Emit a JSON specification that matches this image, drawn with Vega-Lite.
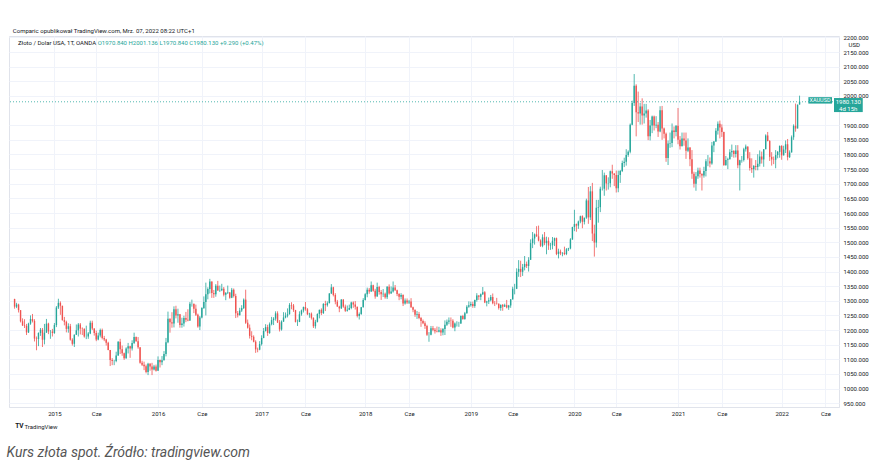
{
"$schema":"https://vega.github.io/schema/vega-lite/v6.json",
"width":830,"height":371,
"autosize":{"type":"none"},
"padding":{"left":9,"top":36,"right":53,"bottom":65},
"background":"white",
"config":{"view":{"stroke":"#e0e3eb","strokeWidth":1},"font":"Roboto"},
"title":{"text":"Kurs złota spot. Źródło: tradingview.com","orient":"bottom","anchor":"start","fontStyle":"italic","fontWeight":"normal","fontSize":14,"color":"#555555","font":"Roboto","offset":16,"dx":-2},
"data":{"values":[
{"t":"2014-08-18","o":1306,"h":1307,"l":1273,"c":1280},
{"t":"2014-08-25","o":1280,"h":1293,"l":1275,"c":1287},
{"t":"2014-09-01","o":1287,"h":1290,"l":1260,"c":1268},
{"t":"2014-09-08","o":1268,"h":1268,"l":1226,"c":1230},
{"t":"2014-09-15","o":1230,"h":1240,"l":1214,"c":1216},
{"t":"2014-09-22","o":1216,"h":1237,"l":1207,"c":1214},
{"t":"2014-09-29","o":1214,"h":1221,"l":1183,"c":1192},
{"t":"2014-10-06","o":1192,"h":1225,"l":1190,"c":1222},
{"t":"2014-10-13","o":1222,"h":1250,"l":1218,"c":1238},
{"t":"2014-10-20","o":1238,"h":1255,"l":1226,"c":1231},
{"t":"2014-10-27","o":1231,"h":1237,"l":1161,"c":1171},
{"t":"2014-11-03","o":1171,"h":1178,"l":1131,"c":1169},
{"t":"2014-11-10","o":1169,"h":1192,"l":1145,"c":1190},
{"t":"2014-11-17","o":1190,"h":1207,"l":1180,"c":1201},
{"t":"2014-11-24","o":1201,"h":1207,"l":1142,"c":1167},
{"t":"2014-12-01","o":1167,"h":1221,"l":1151,"c":1191},
{"t":"2014-12-08","o":1191,"h":1238,"l":1191,"c":1222},
{"t":"2014-12-15","o":1222,"h":1225,"l":1186,"c":1195},
{"t":"2014-12-22","o":1195,"h":1200,"l":1170,"c":1195},
{"t":"2014-12-29","o":1195,"h":1204,"l":1178,"c":1190},
{"t":"2015-01-05","o":1190,"h":1224,"l":1187,"c":1217},
{"t":"2015-01-12","o":1217,"h":1282,"l":1210,"c":1277},
{"t":"2015-01-19","o":1277,"h":1307,"l":1272,"c":1293},
{"t":"2015-01-26","o":1293,"h":1298,"l":1252,"c":1283},
{"t":"2015-02-02","o":1283,"h":1283,"l":1232,"c":1234},
{"t":"2015-02-09","o":1234,"h":1245,"l":1216,"c":1228},
{"t":"2015-02-16","o":1228,"h":1232,"l":1192,"c":1204},
{"t":"2015-02-23","o":1204,"h":1223,"l":1191,"c":1213},
{"t":"2015-03-02","o":1213,"h":1221,"l":1164,"c":1167},
{"t":"2015-03-09","o":1167,"h":1172,"l":1147,"c":1153},
{"t":"2015-03-16","o":1153,"h":1185,"l":1142,"c":1184},
{"t":"2015-03-23","o":1184,"h":1219,"l":1183,"c":1199},
{"t":"2015-03-30","o":1199,"h":1224,"l":1178,"c":1219},
{"t":"2015-04-06","o":1219,"h":1224,"l":1185,"c":1205},
{"t":"2015-04-13","o":1205,"h":1209,"l":1183,"c":1204},
{"t":"2015-04-20","o":1204,"h":1206,"l":1174,"c":1178},
{"t":"2015-04-27","o":1178,"h":1215,"l":1169,"c":1178},
{"t":"2015-05-04","o":1178,"h":1193,"l":1170,"c":1188},
{"t":"2015-05-11","o":1188,"h":1232,"l":1186,"c":1225},
{"t":"2015-05-18","o":1225,"h":1232,"l":1200,"c":1205},
{"t":"2015-05-25","o":1205,"h":1206,"l":1181,"c":1190},
{"t":"2015-06-01","o":1190,"h":1198,"l":1162,"c":1168},
{"t":"2015-06-08","o":1168,"h":1191,"l":1165,"c":1181},
{"t":"2015-06-15","o":1181,"h":1205,"l":1175,"c":1200},
{"t":"2015-06-22","o":1200,"h":1205,"l":1168,"c":1173},
{"t":"2015-06-29","o":1173,"h":1180,"l":1162,"c":1168},
{"t":"2015-07-06","o":1168,"h":1170,"l":1147,"c":1157},
{"t":"2015-07-13","o":1157,"h":1160,"l":1131,"c":1132},
{"t":"2015-07-20","o":1132,"h":1132,"l":1077,"c":1098},
{"t":"2015-07-27","o":1098,"h":1104,"l":1080,"c":1094},
{"t":"2015-08-03","o":1094,"h":1098,"l":1080,"c":1094},
{"t":"2015-08-10","o":1094,"h":1126,"l":1090,"c":1113},
{"t":"2015-08-17","o":1113,"h":1162,"l":1112,"c":1160},
{"t":"2015-08-24","o":1160,"h":1170,"l":1118,"c":1134},
{"t":"2015-08-31","o":1134,"h":1147,"l":1112,"c":1121},
{"t":"2015-09-07","o":1121,"h":1123,"l":1098,"c":1104},
{"t":"2015-09-14","o":1104,"h":1141,"l":1102,"c":1137},
{"t":"2015-09-21","o":1137,"h":1156,"l":1120,"c":1145},
{"t":"2015-09-28","o":1145,"h":1146,"l":1105,"c":1137},
{"t":"2015-10-05","o":1137,"h":1165,"l":1130,"c":1156},
{"t":"2015-10-12","o":1156,"h":1191,"l":1152,"c":1176},
{"t":"2015-10-19","o":1176,"h":1178,"l":1160,"c":1162},
{"t":"2015-10-26","o":1162,"h":1176,"l":1136,"c":1141},
{"t":"2015-11-02","o":1141,"h":1141,"l":1085,"c":1088},
{"t":"2015-11-09","o":1088,"h":1095,"l":1077,"c":1081},
{"t":"2015-11-16","o":1081,"h":1092,"l":1063,"c":1076},
{"t":"2015-11-23","o":1076,"h":1082,"l":1052,"c":1057},
{"t":"2015-11-30","o":1057,"h":1088,"l":1046,"c":1085},
{"t":"2015-12-07","o":1085,"h":1087,"l":1061,"c":1075},
{"t":"2015-12-14","o":1075,"h":1088,"l":1046,"c":1065},
{"t":"2015-12-21","o":1065,"h":1081,"l":1062,"c":1075},
{"t":"2015-12-28","o":1075,"h":1082,"l":1058,"c":1061},
{"t":"2016-01-04","o":1061,"h":1110,"l":1061,"c":1098},
{"t":"2016-01-11","o":1098,"h":1099,"l":1072,"c":1090},
{"t":"2016-01-18","o":1090,"h":1111,"l":1080,"c":1097},
{"t":"2016-01-25","o":1097,"h":1128,"l":1096,"c":1118},
{"t":"2016-02-01","o":1118,"h":1173,"l":1110,"c":1158},
{"t":"2016-02-08","o":1158,"h":1263,"l":1155,"c":1239},
{"t":"2016-02-15","o":1239,"h":1240,"l":1191,"c":1227},
{"t":"2016-02-22","o":1227,"h":1261,"l":1208,"c":1222},
{"t":"2016-02-29","o":1222,"h":1281,"l":1209,"c":1271},
{"t":"2016-03-07","o":1271,"h":1283,"l":1240,"c":1250},
{"t":"2016-03-14","o":1250,"h":1273,"l":1225,"c":1254},
{"t":"2016-03-21","o":1254,"h":1255,"l":1208,"c":1217},
{"t":"2016-03-28","o":1217,"h":1242,"l":1208,"c":1222},
{"t":"2016-04-04","o":1222,"h":1249,"l":1212,"c":1241},
{"t":"2016-04-11","o":1241,"h":1262,"l":1227,"c":1235},
{"t":"2016-04-18","o":1235,"h":1271,"l":1230,"c":1233},
{"t":"2016-04-25","o":1233,"h":1296,"l":1231,"c":1290},
{"t":"2016-05-02","o":1290,"h":1304,"l":1280,"c":1290},
{"t":"2016-05-09","o":1290,"h":1290,"l":1258,"c":1273},
{"t":"2016-05-16","o":1273,"h":1287,"l":1248,"c":1252},
{"t":"2016-05-23","o":1252,"h":1256,"l":1208,"c":1212},
{"t":"2016-05-30","o":1212,"h":1248,"l":1200,"c":1243},
{"t":"2016-06-06","o":1243,"h":1278,"l":1240,"c":1275},
{"t":"2016-06-13","o":1275,"h":1315,"l":1272,"c":1296},
{"t":"2016-06-20","o":1296,"h":1362,"l":1250,"c":1322},
{"t":"2016-06-27","o":1322,"h":1346,"l":1305,"c":1340},
{"t":"2016-07-04","o":1340,"h":1375,"l":1325,"c":1366},
{"t":"2016-07-11","o":1366,"h":1366,"l":1310,"c":1327},
{"t":"2016-07-18","o":1327,"h":1337,"l":1310,"c":1322},
{"t":"2016-07-25","o":1322,"h":1357,"l":1314,"c":1351},
{"t":"2016-08-01","o":1351,"h":1368,"l":1334,"c":1335},
{"t":"2016-08-08","o":1335,"h":1352,"l":1330,"c":1336},
{"t":"2016-08-15","o":1336,"h":1358,"l":1333,"c":1341},
{"t":"2016-08-22","o":1341,"h":1347,"l":1315,"c":1321},
{"t":"2016-08-29","o":1321,"h":1330,"l":1302,"c":1327},
{"t":"2016-09-05","o":1327,"h":1352,"l":1323,"c":1328},
{"t":"2016-09-12","o":1328,"h":1330,"l":1307,"c":1310},
{"t":"2016-09-19","o":1310,"h":1344,"l":1309,"c":1338},
{"t":"2016-09-26","o":1338,"h":1342,"l":1311,"c":1316},
{"t":"2016-10-03","o":1316,"h":1324,"l":1241,"c":1257},
{"t":"2016-10-10","o":1257,"h":1265,"l":1243,"c":1251},
{"t":"2016-10-17","o":1251,"h":1276,"l":1250,"c":1267},
{"t":"2016-10-24","o":1267,"h":1285,"l":1262,"c":1275},
{"t":"2016-10-31","o":1275,"h":1308,"l":1272,"c":1304},
{"t":"2016-11-07","o":1304,"h":1338,"l":1221,"c":1225},
{"t":"2016-11-14","o":1225,"h":1236,"l":1205,"c":1208},
{"t":"2016-11-21","o":1208,"h":1219,"l":1171,"c":1180},
{"t":"2016-11-28","o":1180,"h":1196,"l":1165,"c":1177},
{"t":"2016-12-05","o":1177,"h":1182,"l":1158,"c":1160},
{"t":"2016-12-12","o":1160,"h":1165,"l":1122,"c":1134},
{"t":"2016-12-19","o":1134,"h":1140,"l":1124,"c":1133},
{"t":"2016-12-26","o":1133,"h":1162,"l":1131,"c":1152},
{"t":"2017-01-02","o":1152,"h":1182,"l":1147,"c":1173},
{"t":"2017-01-09","o":1173,"h":1207,"l":1172,"c":1197},
{"t":"2017-01-16","o":1197,"h":1220,"l":1195,"c":1210},
{"t":"2017-01-23","o":1210,"h":1218,"l":1180,"c":1190},
{"t":"2017-01-30","o":1190,"h":1226,"l":1187,"c":1220},
{"t":"2017-02-06","o":1220,"h":1245,"l":1216,"c":1234},
{"t":"2017-02-13","o":1234,"h":1244,"l":1217,"c":1239},
{"t":"2017-02-20","o":1239,"h":1264,"l":1232,"c":1257},
{"t":"2017-02-27","o":1257,"h":1264,"l":1224,"c":1226},
{"t":"2017-03-06","o":1226,"h":1234,"l":1195,"c":1202},
{"t":"2017-03-13","o":1202,"h":1233,"l":1198,"c":1229},
{"t":"2017-03-20","o":1229,"h":1261,"l":1228,"c":1243},
{"t":"2017-03-27","o":1243,"h":1260,"l":1240,"c":1249},
{"t":"2017-04-03","o":1249,"h":1274,"l":1243,"c":1254},
{"t":"2017-04-10","o":1254,"h":1292,"l":1253,"c":1286},
{"t":"2017-04-17","o":1286,"h":1295,"l":1271,"c":1284},
{"t":"2017-04-24","o":1284,"h":1289,"l":1262,"c":1268},
{"t":"2017-05-01","o":1268,"h":1269,"l":1226,"c":1228},
{"t":"2017-05-08","o":1228,"h":1236,"l":1214,"c":1228},
{"t":"2017-05-15","o":1228,"h":1264,"l":1227,"c":1254},
{"t":"2017-05-22","o":1254,"h":1270,"l":1249,"c":1267},
{"t":"2017-05-29","o":1267,"h":1280,"l":1260,"c":1279},
{"t":"2017-06-05","o":1279,"h":1296,"l":1266,"c":1271},
{"t":"2017-06-12","o":1271,"h":1275,"l":1251,"c":1254},
{"t":"2017-06-19","o":1254,"h":1259,"l":1242,"c":1256},
{"t":"2017-06-26","o":1256,"h":1260,"l":1236,"c":1242},
{"t":"2017-07-03","o":1242,"h":1243,"l":1207,"c":1213},
{"t":"2017-07-10","o":1213,"h":1235,"l":1205,"c":1228},
{"t":"2017-07-17","o":1228,"h":1257,"l":1226,"c":1255},
{"t":"2017-07-24","o":1255,"h":1270,"l":1240,"c":1269},
{"t":"2017-07-31","o":1269,"h":1274,"l":1251,"c":1258},
{"t":"2017-08-07","o":1258,"h":1292,"l":1255,"c":1289},
{"t":"2017-08-14","o":1289,"h":1300,"l":1265,"c":1285},
{"t":"2017-08-21","o":1285,"h":1298,"l":1280,"c":1292},
{"t":"2017-08-28","o":1292,"h":1326,"l":1291,"c":1325},
{"t":"2017-09-04","o":1325,"h":1357,"l":1323,"c":1346},
{"t":"2017-09-11","o":1346,"h":1348,"l":1315,"c":1320},
{"t":"2017-09-18","o":1320,"h":1326,"l":1288,"c":1297},
{"t":"2017-09-25","o":1297,"h":1303,"l":1280,"c":1280},
{"t":"2017-10-02","o":1280,"h":1283,"l":1261,"c":1274},
{"t":"2017-10-09","o":1274,"h":1306,"l":1272,"c":1304},
{"t":"2017-10-16","o":1304,"h":1306,"l":1276,"c":1280},
{"t":"2017-10-23","o":1280,"h":1287,"l":1262,"c":1266},
{"t":"2017-10-30","o":1266,"h":1284,"l":1263,"c":1269},
{"t":"2017-11-06","o":1269,"h":1287,"l":1268,"c":1275},
{"t":"2017-11-13","o":1275,"h":1297,"l":1271,"c":1294},
{"t":"2017-11-20","o":1294,"h":1298,"l":1276,"c":1287},
{"t":"2017-11-27","o":1287,"h":1299,"l":1270,"c":1280},
{"t":"2017-12-04","o":1280,"h":1280,"l":1243,"c":1248},
{"t":"2017-12-11","o":1248,"h":1260,"l":1236,"c":1255},
{"t":"2017-12-18","o":1255,"h":1279,"l":1252,"c":1278},
{"t":"2017-12-25","o":1278,"h":1309,"l":1277,"c":1303},
{"t":"2018-01-01","o":1303,"h":1326,"l":1301,"c":1322},
{"t":"2018-01-08","o":1322,"h":1345,"l":1312,"c":1338},
{"t":"2018-01-15","o":1338,"h":1344,"l":1324,"c":1332},
{"t":"2018-01-22","o":1332,"h":1366,"l":1330,"c":1353},
{"t":"2018-01-29","o":1353,"h":1355,"l":1331,"c":1334},
{"t":"2018-02-05","o":1334,"h":1341,"l":1307,"c":1315},
{"t":"2018-02-12","o":1315,"h":1362,"l":1314,"c":1347},
{"t":"2018-02-19","o":1347,"h":1351,"l":1321,"c":1330},
{"t":"2018-02-26","o":1330,"h":1337,"l":1303,"c":1322},
{"t":"2018-03-05","o":1322,"h":1340,"l":1313,"c":1324},
{"t":"2018-03-12","o":1324,"h":1328,"l":1307,"c":1312},
{"t":"2018-03-19","o":1312,"h":1350,"l":1306,"c":1348},
{"t":"2018-03-26","o":1348,"h":1356,"l":1321,"c":1325},
{"t":"2018-04-02","o":1325,"h":1349,"l":1324,"c":1332},
{"t":"2018-04-09","o":1332,"h":1366,"l":1328,"c":1345},
{"t":"2018-04-16","o":1345,"h":1354,"l":1334,"c":1336},
{"t":"2018-04-23","o":1336,"h":1338,"l":1316,"c":1323},
{"t":"2018-04-30","o":1323,"h":1326,"l":1302,"c":1314},
{"t":"2018-05-07","o":1314,"h":1326,"l":1305,"c":1320},
{"t":"2018-05-14","o":1320,"h":1322,"l":1282,"c":1291},
{"t":"2018-05-21","o":1291,"h":1308,"l":1287,"c":1301},
{"t":"2018-05-28","o":1301,"h":1308,"l":1289,"c":1294},
{"t":"2018-06-04","o":1294,"h":1303,"l":1289,"c":1298},
{"t":"2018-06-11","o":1298,"h":1309,"l":1276,"c":1278},
{"t":"2018-06-18","o":1278,"h":1280,"l":1261,"c":1269},
{"t":"2018-06-25","o":1269,"h":1270,"l":1245,"c":1252},
{"t":"2018-07-02","o":1252,"h":1265,"l":1238,"c":1255},
{"t":"2018-07-09","o":1255,"h":1262,"l":1237,"c":1241},
{"t":"2018-07-16","o":1241,"h":1245,"l":1211,"c":1231},
{"t":"2018-07-23","o":1231,"h":1236,"l":1220,"c":1223},
{"t":"2018-07-30","o":1223,"h":1230,"l":1204,"c":1214},
{"t":"2018-08-06","o":1214,"h":1218,"l":1180,"c":1184},
{"t":"2018-08-13","o":1184,"h":1193,"l":1160,"c":1184},
{"t":"2018-08-20","o":1184,"h":1214,"l":1182,"c":1206},
{"t":"2018-08-27","o":1206,"h":1214,"l":1196,"c":1201},
{"t":"2018-09-03","o":1201,"h":1207,"l":1188,"c":1196},
{"t":"2018-09-10","o":1196,"h":1212,"l":1192,"c":1194},
{"t":"2018-09-17","o":1194,"h":1211,"l":1192,"c":1199},
{"t":"2018-09-24","o":1199,"h":1206,"l":1180,"c":1192},
{"t":"2018-10-01","o":1192,"h":1207,"l":1182,"c":1204},
{"t":"2018-10-08","o":1204,"h":1233,"l":1183,"c":1218},
{"t":"2018-10-15","o":1218,"h":1236,"l":1214,"c":1228},
{"t":"2018-10-22","o":1228,"h":1243,"l":1220,"c":1233},
{"t":"2018-10-29","o":1233,"h":1243,"l":1211,"c":1232},
{"t":"2018-11-05","o":1232,"h":1237,"l":1206,"c":1209},
{"t":"2018-11-12","o":1209,"h":1226,"l":1196,"c":1222},
{"t":"2018-11-19","o":1222,"h":1230,"l":1212,"c":1222},
{"t":"2018-11-26","o":1222,"h":1228,"l":1211,"c":1222},
{"t":"2018-12-03","o":1222,"h":1250,"l":1221,"c":1248},
{"t":"2018-12-10","o":1248,"h":1252,"l":1235,"c":1238},
{"t":"2018-12-17","o":1238,"h":1262,"l":1235,"c":1257},
{"t":"2018-12-24","o":1257,"h":1285,"l":1256,"c":1280},
{"t":"2018-12-31","o":1280,"h":1298,"l":1276,"c":1285},
{"t":"2019-01-07","o":1285,"h":1297,"l":1280,"c":1289},
{"t":"2019-01-14","o":1289,"h":1297,"l":1276,"c":1282},
{"t":"2019-01-21","o":1282,"h":1304,"l":1276,"c":1303},
{"t":"2019-01-28","o":1303,"h":1326,"l":1297,"c":1318},
{"t":"2019-02-04","o":1318,"h":1319,"l":1303,"c":1314},
{"t":"2019-02-11","o":1314,"h":1325,"l":1302,"c":1322},
{"t":"2019-02-18","o":1322,"h":1347,"l":1320,"c":1329},
{"t":"2019-02-25","o":1329,"h":1333,"l":1292,"c":1294},
{"t":"2019-03-04","o":1294,"h":1300,"l":1281,"c":1298},
{"t":"2019-03-11","o":1298,"h":1311,"l":1289,"c":1302},
{"t":"2019-03-18","o":1302,"h":1320,"l":1298,"c":1313},
{"t":"2019-03-25","o":1313,"h":1325,"l":1288,"c":1292},
{"t":"2019-04-01","o":1292,"h":1299,"l":1282,"c":1291},
{"t":"2019-04-08","o":1291,"h":1310,"l":1287,"c":1290},
{"t":"2019-04-15","o":1290,"h":1291,"l":1270,"c":1275},
{"t":"2019-04-22","o":1275,"h":1288,"l":1266,"c":1286},
{"t":"2019-04-29","o":1286,"h":1289,"l":1266,"c":1280},
{"t":"2019-05-06","o":1280,"h":1290,"l":1279,"c":1285},
{"t":"2019-05-13","o":1285,"h":1303,"l":1274,"c":1277},
{"t":"2019-05-20","o":1277,"h":1286,"l":1269,"c":1284},
{"t":"2019-05-27","o":1284,"h":1306,"l":1276,"c":1305},
{"t":"2019-06-03","o":1305,"h":1348,"l":1304,"c":1341},
{"t":"2019-06-10","o":1341,"h":1358,"l":1322,"c":1341},
{"t":"2019-06-17","o":1341,"h":1411,"l":1340,"c":1399},
{"t":"2019-06-24","o":1399,"h":1439,"l":1382,"c":1409},
{"t":"2019-07-01","o":1409,"h":1437,"l":1381,"c":1399},
{"t":"2019-07-08","o":1399,"h":1426,"l":1385,"c":1415},
{"t":"2019-07-15","o":1415,"h":1453,"l":1404,"c":1426},
{"t":"2019-07-22","o":1426,"h":1434,"l":1412,"c":1419},
{"t":"2019-07-29","o":1419,"h":1449,"l":1400,"c":1440},
{"t":"2019-08-05","o":1440,"h":1510,"l":1440,"c":1497},
{"t":"2019-08-12","o":1497,"h":1535,"l":1480,"c":1513},
{"t":"2019-08-19","o":1513,"h":1530,"l":1492,"c":1527},
{"t":"2019-08-26","o":1527,"h":1555,"l":1519,"c":1520},
{"t":"2019-09-02","o":1520,"h":1557,"l":1503,"c":1506},
{"t":"2019-09-09","o":1506,"h":1510,"l":1484,"c":1488},
{"t":"2019-09-16","o":1488,"h":1527,"l":1483,"c":1517},
{"t":"2019-09-23","o":1517,"h":1535,"l":1490,"c":1497},
{"t":"2019-09-30","o":1497,"h":1519,"l":1459,"c":1505},
{"t":"2019-10-07","o":1505,"h":1517,"l":1474,"c":1489},
{"t":"2019-10-14","o":1489,"h":1498,"l":1474,"c":1490},
{"t":"2019-10-21","o":1490,"h":1518,"l":1476,"c":1505},
{"t":"2019-10-28","o":1505,"h":1516,"l":1487,"c":1514},
{"t":"2019-11-04","o":1514,"h":1516,"l":1456,"c":1460},
{"t":"2019-11-11","o":1460,"h":1478,"l":1445,"c":1468},
{"t":"2019-11-18","o":1468,"h":1475,"l":1456,"c":1462},
{"t":"2019-11-25","o":1462,"h":1466,"l":1452,"c":1464},
{"t":"2019-12-02","o":1464,"h":1485,"l":1456,"c":1460},
{"t":"2019-12-09","o":1460,"h":1480,"l":1456,"c":1476},
{"t":"2019-12-16","o":1476,"h":1481,"l":1470,"c":1479},
{"t":"2019-12-23","o":1479,"h":1514,"l":1476,"c":1510},
{"t":"2019-12-30","o":1510,"h":1553,"l":1508,"c":1552},
{"t":"2020-01-06","o":1552,"h":1611,"l":1538,"c":1562},
{"t":"2020-01-13","o":1562,"h":1564,"l":1536,"c":1557},
{"t":"2020-01-20","o":1557,"h":1574,"l":1546,"c":1571},
{"t":"2020-01-27","o":1571,"h":1591,"l":1565,"c":1589},
{"t":"2020-02-03","o":1589,"h":1592,"l":1548,"c":1570},
{"t":"2020-02-10","o":1570,"h":1584,"l":1561,"c":1584},
{"t":"2020-02-17","o":1584,"h":1649,"l":1580,"c":1643},
{"t":"2020-02-24","o":1643,"h":1689,"l":1563,"c":1585},
{"t":"2020-03-02","o":1585,"h":1692,"l":1576,"c":1674},
{"t":"2020-03-09","o":1674,"h":1703,"l":1504,"c":1530},
{"t":"2020-03-16","o":1530,"h":1560,"l":1451,"c":1499},
{"t":"2020-03-23","o":1499,"h":1645,"l":1482,"c":1618},
{"t":"2020-03-30","o":1618,"h":1645,"l":1567,"c":1620},
{"t":"2020-04-06","o":1620,"h":1690,"l":1603,"c":1683},
{"t":"2020-04-13","o":1683,"h":1747,"l":1677,"c":1683},
{"t":"2020-04-20","o":1683,"h":1738,"l":1659,"c":1729},
{"t":"2020-04-27","o":1729,"h":1729,"l":1677,"c":1701},
{"t":"2020-05-04","o":1701,"h":1722,"l":1680,"c":1702},
{"t":"2020-05-11","o":1702,"h":1745,"l":1688,"c":1743},
{"t":"2020-05-18","o":1743,"h":1765,"l":1717,"c":1735},
{"t":"2020-05-25","o":1735,"h":1736,"l":1692,"c":1730},
{"t":"2020-06-01","o":1730,"h":1745,"l":1670,"c":1685},
{"t":"2020-06-08","o":1685,"h":1745,"l":1671,"c":1730},
{"t":"2020-06-15","o":1730,"h":1747,"l":1703,"c":1744},
{"t":"2020-06-22","o":1744,"h":1779,"l":1740,"c":1771},
{"t":"2020-06-29","o":1771,"h":1789,"l":1757,"c":1775},
{"t":"2020-07-06","o":1775,"h":1818,"l":1762,"c":1798},
{"t":"2020-07-13","o":1798,"h":1814,"l":1792,"c":1809},
{"t":"2020-07-20","o":1809,"h":1906,"l":1804,"c":1902},
{"t":"2020-07-27","o":1902,"h":1984,"l":1900,"c":1976},
{"t":"2020-08-03","o":1976,"h":2075,"l":1966,"c":2035},
{"t":"2020-08-10","o":2035,"h":2040,"l":1862,"c":1944},
{"t":"2020-08-17","o":1944,"h":2015,"l":1911,"c":1940},
{"t":"2020-08-24","o":1940,"h":1976,"l":1902,"c":1964},
{"t":"2020-08-31","o":1964,"h":1992,"l":1902,"c":1933},
{"t":"2020-09-07","o":1933,"h":1973,"l":1906,"c":1940},
{"t":"2020-09-14","o":1940,"h":1973,"l":1926,"c":1950},
{"t":"2020-09-21","o":1950,"h":1955,"l":1849,"c":1862},
{"t":"2020-09-28","o":1862,"h":1918,"l":1848,"c":1899},
{"t":"2020-10-05","o":1899,"h":1933,"l":1873,"c":1930},
{"t":"2020-10-12","o":1930,"h":1933,"l":1882,"c":1899},
{"t":"2020-10-19","o":1899,"h":1931,"l":1890,"c":1902},
{"t":"2020-10-26","o":1902,"h":1911,"l":1860,"c":1879},
{"t":"2020-11-02","o":1879,"h":1965,"l":1876,"c":1951},
{"t":"2020-11-09","o":1951,"h":1966,"l":1850,"c":1889},
{"t":"2020-11-16","o":1889,"h":1892,"l":1855,"c":1871},
{"t":"2020-11-23","o":1871,"h":1875,"l":1775,"c":1788},
{"t":"2020-11-30","o":1788,"h":1848,"l":1764,"c":1838},
{"t":"2020-12-07","o":1838,"h":1875,"l":1823,"c":1839},
{"t":"2020-12-14","o":1839,"h":1906,"l":1825,"c":1882},
{"t":"2020-12-21","o":1882,"h":1896,"l":1855,"c":1877},
{"t":"2020-12-28","o":1877,"h":1900,"l":1862,"c":1898},
{"t":"2021-01-04","o":1898,"h":1959,"l":1835,"c":1850},
{"t":"2021-01-11","o":1850,"h":1863,"l":1817,"c":1828},
{"t":"2021-01-18","o":1828,"h":1875,"l":1828,"c":1855},
{"t":"2021-01-25","o":1855,"h":1875,"l":1830,"c":1848},
{"t":"2021-02-01","o":1848,"h":1875,"l":1785,"c":1813},
{"t":"2021-02-08","o":1813,"h":1855,"l":1808,"c":1824},
{"t":"2021-02-15","o":1824,"h":1825,"l":1760,"c":1784},
{"t":"2021-02-22","o":1784,"h":1815,"l":1717,"c":1734},
{"t":"2021-03-01","o":1734,"h":1741,"l":1687,"c":1700},
{"t":"2021-03-08","o":1700,"h":1740,"l":1676,"c":1726},
{"t":"2021-03-15","o":1726,"h":1755,"l":1717,"c":1745},
{"t":"2021-03-22","o":1745,"h":1755,"l":1721,"c":1733},
{"t":"2021-03-29","o":1733,"h":1736,"l":1677,"c":1728},
{"t":"2021-04-05","o":1728,"h":1758,"l":1721,"c":1744},
{"t":"2021-04-12","o":1744,"h":1784,"l":1725,"c":1777},
{"t":"2021-04-19","o":1777,"h":1798,"l":1760,"c":1777},
{"t":"2021-04-26","o":1777,"h":1790,"l":1756,"c":1769},
{"t":"2021-05-03","o":1769,"h":1843,"l":1765,"c":1831},
{"t":"2021-05-10","o":1831,"h":1846,"l":1808,"c":1844},
{"t":"2021-05-17","o":1844,"h":1890,"l":1843,"c":1881},
{"t":"2021-05-24","o":1881,"h":1913,"l":1868,"c":1905},
{"t":"2021-05-31","o":1905,"h":1916,"l":1855,"c":1892},
{"t":"2021-06-07","o":1892,"h":1903,"l":1860,"c":1877},
{"t":"2021-06-14","o":1877,"h":1878,"l":1761,"c":1764},
{"t":"2021-06-21","o":1764,"h":1795,"l":1761,"c":1781},
{"t":"2021-06-28","o":1781,"h":1789,"l":1750,"c":1784},
{"t":"2021-07-05","o":1784,"h":1818,"l":1783,"c":1808},
{"t":"2021-07-12","o":1808,"h":1834,"l":1792,"c":1812},
{"t":"2021-07-19","o":1812,"h":1815,"l":1789,"c":1802},
{"t":"2021-07-26","o":1802,"h":1832,"l":1790,"c":1814},
{"t":"2021-08-02","o":1814,"h":1832,"l":1753,"c":1763},
{"t":"2021-08-09","o":1763,"h":1782,"l":1677,"c":1780},
{"t":"2021-08-16","o":1780,"h":1795,"l":1772,"c":1781},
{"t":"2021-08-23","o":1781,"h":1823,"l":1776,"c":1818},
{"t":"2021-08-30","o":1818,"h":1834,"l":1810,"c":1827},
{"t":"2021-09-06","o":1827,"h":1827,"l":1782,"c":1787},
{"t":"2021-09-13","o":1787,"h":1808,"l":1745,"c":1754},
{"t":"2021-09-20","o":1754,"h":1787,"l":1737,"c":1750},
{"t":"2021-09-27","o":1750,"h":1764,"l":1721,"c":1761},
{"t":"2021-10-04","o":1761,"h":1781,"l":1746,"c":1757},
{"t":"2021-10-11","o":1757,"h":1801,"l":1746,"c":1768},
{"t":"2021-10-18","o":1768,"h":1814,"l":1759,"c":1793},
{"t":"2021-10-25","o":1793,"h":1810,"l":1769,"c":1783},
{"t":"2021-11-01","o":1783,"h":1818,"l":1758,"c":1818},
{"t":"2021-11-08","o":1818,"h":1869,"l":1818,"c":1865},
{"t":"2021-11-15","o":1865,"h":1877,"l":1845,"c":1846},
{"t":"2021-11-22","o":1846,"h":1849,"l":1778,"c":1792},
{"t":"2021-11-29","o":1792,"h":1808,"l":1762,"c":1783},
{"t":"2021-12-06","o":1783,"h":1793,"l":1767,"c":1782},
{"t":"2021-12-13","o":1782,"h":1815,"l":1753,"c":1798},
{"t":"2021-12-20","o":1798,"h":1812,"l":1787,"c":1809},
{"t":"2021-12-27","o":1809,"h":1831,"l":1789,"c":1829},
{"t":"2022-01-03","o":1829,"h":1832,"l":1782,"c":1797},
{"t":"2022-01-10","o":1797,"h":1830,"l":1797,"c":1817},
{"t":"2022-01-17","o":1817,"h":1848,"l":1805,"c":1835},
{"t":"2022-01-24","o":1835,"h":1853,"l":1780,"c":1791},
{"t":"2022-01-31","o":1791,"h":1814,"l":1788,"c":1807},
{"t":"2022-02-07","o":1807,"h":1865,"l":1807,"c":1859},
{"t":"2022-02-14","o":1859,"h":1903,"l":1850,"c":1898},
{"t":"2022-02-21","o":1898,"h":1974,"l":1878,"c":1889},
{"t":"2022-02-28","o":1889,"h":1971,"l":1889,"c":1970},
{"t":"2022-03-07","o":1970.84,"h":2001.136,"l":1970.84,"c":1980.13}
]},
"layer":[
{"mark":{"type":"rule","strokeWidth":0.8},
 "encoding":{
  "x":{"field":"t","type":"temporal",
   "scale":{"domain":[{"year":2014,"month":8,"date":16,"utc":true},{"year":2022,"month":7,"date":6,"utc":true}]},
   "axis":{"values":[{"year":2015,"month":1,"date":5,"utc":true},{"year":2015,"month":6,"date":1,"utc":true},{"year":2016,"month":1,"date":4,"utc":true},{"year":2016,"month":6,"date":6,"utc":true},{"year":2017,"month":1,"date":2,"utc":true},{"year":2017,"month":6,"date":5,"utc":true},{"year":2018,"month":1,"date":1,"utc":true},{"year":2018,"month":6,"date":4,"utc":true},{"year":2019,"month":1,"date":7,"utc":true},{"year":2019,"month":6,"date":3,"utc":true},{"year":2020,"month":1,"date":6,"utc":true},{"year":2020,"month":6,"date":1,"utc":true},{"year":2021,"month":1,"date":4,"utc":true},{"year":2021,"month":6,"date":7,"utc":true},{"year":2022,"month":1,"date":3,"utc":true},{"year":2022,"month":6,"date":6,"utc":true}],
    "tickCount":40,
    "labelExpr":"utcmonth(datum.value) == 0 ? utcFormat(datum.value, '%Y') : 'Cze'",
    "labelFontSize":6,"labelColor":"#131722","labelPadding":3,"labelOverlap":false,"ticks":false,"domainColor":"#e0e3eb","gridColor":"#f0f3fa","labelFont":"Roboto",
    "title":"TradingView","titleFontSize":6,"titleFontWeight":"normal","titleColor":"#131722","titleAnchor":"start","titleAlign":"left","titleBaseline":"middle","titleX":15,"titleY":19}},
  "y":{"field":"l","type":"quantitative","scale":{"domain":[937,2205],"zero":false,"nice":false},
   "axis":{"orient":"right","values":[950,1000,1050,1100,1150,1200,1250,1300,1350,1400,1450,1500,1550,1600,1650,1700,1750,1800,1850,1900,2000,2050,2100,2150,2200],
    "tickCount":40,
    "format":".3f","labelFontSize":6,"labelColor":"#131722","labelAlign":"left","labelPadding":4,"labelOverlap":false,"ticks":false,"domain":false,"gridColor":"#f0f3fa","labelFont":"Roboto",
    "title":"USD","titleAngle":0,"titleAlign":"left","titleBaseline":"middle","titleX":9,"titleY":8,"titleFontSize":6,"titleFontWeight":"normal","titleColor":"#131722"}},
  "y2":{"field":"h"},
  "color":{"condition":{"test":"datum.c >= datum.o","value":"#26a69a"},"value":"#ef5350"}
 }},
{"mark":{"type":"bar","width":1.4},
 "encoding":{
  "x":{"field":"t","type":"temporal"},
  "y":{"field":"o","type":"quantitative"},
  "y2":{"field":"c"},
  "color":{"condition":{"test":"datum.c >= datum.o","value":"#26a69a"},"value":"#ef5350"}
 }},
{"data":{"values":[{}]},"mark":{"type":"rule","color":"#26a69a","strokeDash":[1,2],"strokeWidth":0.8},
 "encoding":{"y":{"datum":1980.13,"type":"quantitative"}}},
{"data":{"values":[{}]},"mark":{"type":"text","align":"left","baseline":"middle","fontSize":6,"color":"#131722","clip":false},
 "encoding":{"x":{"datum":{"year":2014,"month":8,"date":12,"utc":true},"type":"temporal"},"y":{"datum":2222,"type":"quantitative"},"text":{"value":"Comparic opublikował TradingView.com, Mrz. 07, 2022 08:22 UTC+1"}}},
{"data":{"values":[{}]},"mark":{"type":"text","align":"left","baseline":"middle","fontSize":6,"color":"#131722"},
 "encoding":{"x":{"datum":{"year":2014,"month":8,"date":30,"utc":true},"type":"temporal"},"y":{"datum":2181,"type":"quantitative"},"text":{"value":"Złoto / Dolar USA, 1T, OANDA"}}},
{"data":{"values":[{}]},"mark":{"type":"text","align":"left","baseline":"middle","fontSize":6,"color":"#26a69a"},
 "encoding":{"x":{"datum":{"year":2015,"month":6,"date":6,"utc":true},"type":"temporal"},"y":{"datum":2181,"type":"quantitative"},"text":{"value":"O1970.840  H2001.136  L1970.840  C1980.130  +9.290 (+0.47%)"}}},
{"data":{"values":[{}]},"mark":{"type":"rect","color":"#26a69a","clip":false},
 "encoding":{"x":{"datum":{"year":2022,"month":7,"date":6,"utc":true},"type":"temporal"},"x2":{"datum":{"year":2022,"month":10,"date":15,"utc":true}},"y":{"datum":1993,"type":"quantitative"},"y2":{"datum":1945}}},
{"data":{"values":[{}]},"mark":{"type":"text","align":"center","baseline":"middle","fontSize":6,"color":"white","clip":false},
 "encoding":{"x":{"datum":{"year":2022,"month":8,"date":25,"utc":true},"type":"temporal"},"y":{"datum":1979,"type":"quantitative"},"text":{"value":"1980.130"}}},
{"data":{"values":[{}]},"mark":{"type":"text","align":"center","baseline":"middle","fontSize":6,"color":"white","clip":false},
 "encoding":{"x":{"datum":{"year":2022,"month":8,"date":25,"utc":true},"type":"temporal"},"y":{"datum":1956,"type":"quantitative"},"text":{"value":"4d 15h"}}},
{"data":{"values":[{}]},"mark":{"type":"rect","color":"#26a69a"},
 "encoding":{"x":{"datum":{"year":2022,"month":4,"date":7,"utc":true},"type":"temporal"},"x2":{"datum":{"year":2022,"month":6,"date":29,"utc":true}},"y":{"datum":1996,"type":"quantitative"},"y2":{"datum":1974}}},
{"data":{"values":[{}]},"mark":{"type":"text","align":"center","baseline":"middle","fontSize":5.5,"color":"white"},
 "encoding":{"x":{"datum":{"year":2022,"month":5,"date":18,"utc":true},"type":"temporal"},"y":{"datum":1985,"type":"quantitative"},"text":{"value":"XAUUSD"}}},
{"data":{"values":[{}]},"mark":{"type":"text","align":"left","baseline":"middle","fontSize":6.5,"fontWeight":"bold","color":"#131722","clip":false},
 "encoding":{"x":{"datum":{"year":2014,"month":8,"date":20,"utc":true},"type":"temporal"},"y":{"datum":872,"type":"quantitative"},"text":{"value":"TV"}}}
]
}
